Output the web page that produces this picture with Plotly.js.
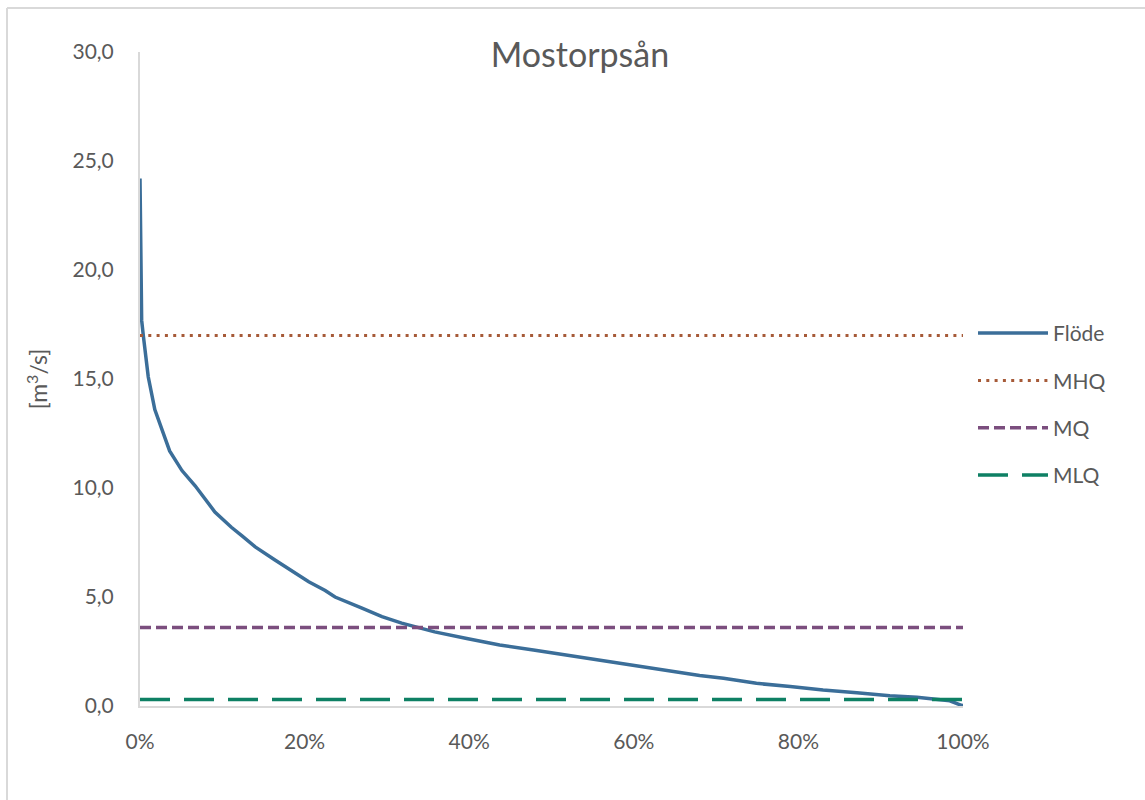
<!DOCTYPE html>
<html>
<head>
<meta charset="utf-8">
<script src="https://cdn.plot.ly/plotly-3.0.1.min.js"></script>
<style>
  html, body { margin: 0; padding: 0; background: #ffffff; }
  #chart { width: 1145px; height: 800px; }
</style>
</head>
<body>
<div id="chart"></div>
<script>
// Duration curve (varaktighetskurva) for Mostorpsån
var exceedancePct = [0, 0.2, 0.4, 1.0, 1.8, 2.6, 3.6, 5.1, 6.7, 9.1, 11.1, 12.4, 14.0, 16.4, 18.0, 20.5, 22.5, 23.7, 26.9, 29.4, 31.8, 34.2, 35.8, 39.7, 43.7, 47.8, 51.8, 55.9, 59.9, 64.0, 68.0, 70.9, 74.9, 79.0, 83.0, 87.1, 91.1, 94.4, 96.0, 98.4, 99.8, 100];
var flowValues = [24.2, 17.7, 17.0, 15.1, 13.6, 12.8, 11.7, 10.8, 10.1, 8.9, 8.2, 7.8, 7.3, 6.7, 6.3, 5.7, 5.3, 5.0, 4.5, 4.1, 3.8, 3.55, 3.4, 3.1, 2.8, 2.57, 2.34, 2.11, 1.88, 1.62, 1.40, 1.27, 1.04, 0.89, 0.73, 0.61, 0.47, 0.40, 0.35, 0.24, 0.03, 0.02];

var refX = [0, 100];
var MHQ = 17.0;
var MQ = 3.6;
var MLQ = 0.3;

var seriesNames = ['Flöde', 'MHQ', 'MQ', 'MLQ'];
var yTickVals = [0, 5, 10, 15, 20, 25, 30];
var yTickText = ['0,0', '5,0', '10,0', '15,0', '20,0', '25,0', '30,0'];
var xTickVals = [0, 20, 40, 60, 80, 100];
var xTickText = ['0%', '20%', '40%', '60%', '80%', '100%'];

var FONT = 'Lato, "Open Sans", sans-serif';
var GREY = '#595959';

var traces = [
  {x: exceedancePct, y: flowValues, name: seriesNames[0], mode: 'lines',
   line: {color: '#3B6E99', width: 3.5}, legendgroup: 'a'},
  {x: refX, y: [MHQ, MHQ], name: seriesNames[1], mode: 'lines',
   line: {color: '#A65A38', width: 3, dash: '3px,5.3px'}, legendgroup: 'b'},
  {x: refX, y: [MQ, MQ], name: seriesNames[2], mode: 'lines',
   line: {color: '#7B4E7E', width: 3.5, dash: '11px,5px'}, legendgroup: 'c'},
  {x: refX, y: [MLQ, MLQ], name: seriesNames[3], mode: 'lines',
   line: {color: '#0E8064', width: 3.5, dash: '30px,14px'}, legendgroup: 'd'}
];

var layout = {
  width: 1145, height: 800,
  paper_bgcolor: '#ffffff', plot_bgcolor: '#ffffff',
  margin: {l: 140, r: 182, t: 52, b: 94},
  font: {family: FONT, color: GREY, size: 22},
  showlegend: true,
  title: {text: 'Mostorpsån', font: {family: FONT, size: 34, color: GREY},
          x: 580 / 1145, xref: 'container', xanchor: 'center',
          y: 1 - 55 / 800, yref: 'container', yanchor: 'middle'},
  xaxis: {range: [0, 100], tickmode: 'array', tickvals: xTickVals, ticktext: xTickText,
          showgrid: false, zeroline: false, showline: true, linecolor: '#d9d9d9', linewidth: 2,
          ticks: 'outside', ticklen: 16, tickcolor: 'rgba(0,0,0,0)',
          tickfont: {family: FONT, size: 21, color: GREY}, fixedrange: true},
  yaxis: {range: [0, 30], tickmode: 'array', tickvals: yTickVals, ticktext: yTickText,
          showgrid: false, zeroline: false, showline: true, linecolor: '#d9d9d9', linewidth: 2,
          ticks: 'outside', ticklen: 20, tickcolor: 'rgba(0,0,0,0)',
          tickfont: {family: FONT, size: 21, color: GREY},
          title: {text: '[m<sup>3</sup>/s]', font: {family: FONT, size: 23, color: GREY}, standoff: 18},
          fixedrange: true},
  legend: {x: (973 - 140) / 823, y: 0.601, xanchor: 'left', yanchor: 'top',
           traceorder: 'grouped', tracegroupgap: 17, itemwidth: 70,
           font: {family: FONT, size: 21, color: GREY}, bgcolor: 'rgba(0,0,0,0)'},
  shapes: [
    {type: 'line', xref: 'paper', yref: 'paper', x0: (7 - 140) / 823, x1: (7 - 140) / 823,
     y0: (706 - 8) / 654, y1: -0.2, line: {color: '#d9d9d9', width: 2}},
    {type: 'line', xref: 'paper', yref: 'paper', x0: (7 - 140) / 823, x1: 1.3,
     y0: (706 - 8) / 654, y1: (706 - 8) / 654, line: {color: '#d9d9d9', width: 2}}
  ]
};

Plotly.newPlot('chart', traces, layout, {displayModeBar: false, staticPlot: true});
</script>
</body>
</html>
